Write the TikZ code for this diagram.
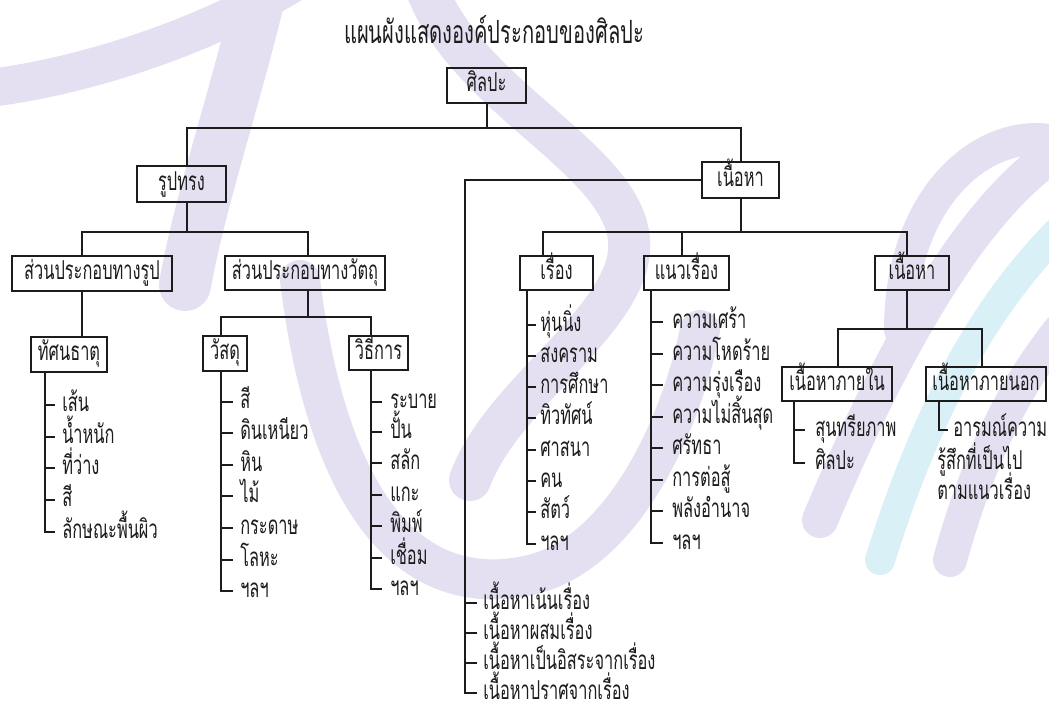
\documentclass[tikz,border=0pt]{standalone}
\usepackage{fontspec}
\newfontfamily\thaifont[Script=Thai,FakeStretch=0.63]{Loma}
\usetikzlibrary{calc}
\newdimen\pxu \pxu=0.75pt
\definecolor{wmL}{RGB}{229,224,241}
\definecolor{wmB}{RGB}{218,240,247}
\definecolor{ink}{RGB}{28,28,28}
\begin{document}
\begin{tikzpicture}[x=0.75pt,y=-0.75pt,
  wml/.style={draw=wmL, line cap=round, line width=#1\pxu},
  wmb/.style={draw=wmB, line cap=round, line width=#1\pxu},
  box/.style={draw=ink, line width=1.1pt, inner sep=0pt, text=ink,
    font=\thaifont\fontsize{19.5}{22}\selectfont, text height=13.5pt, text depth=4.5pt},
  item/.style={inner sep=0pt, anchor=west, text=ink,
    font=\thaifont\fontsize{19.5}{22}\selectfont, text height=13.5pt, text depth=4.5pt},
  conn/.style={draw=ink, line width=1.5pt}]
\fill[white] (0,0) rectangle (1049,711);
\useasboundingbox (0,0) rectangle (1049,711);
% watermark
\draw[wml=38] (-10,88) .. controls (100,74) and (215,30) .. (290,-15);
\draw[wml=52] (262,-15) .. controls (235,100) and (200,200) .. (185,285);
\draw[wml=42] (425,-15) .. controls (470,110) and (660,170) .. (625,270) .. controls (600,340) and (500,400) .. (470,480);
\draw[wml=40] (300,280) .. controls (330,520) and (420,600) .. (530,575) .. controls (620,555) and (680,430) .. (700,330);
\draw[wml=36] (1060,150) .. controls (980,200) and (900,330) .. (820,520);
\draw[wmb=30] (1060,230) .. controls (990,300) and (930,400) .. (880,560);
\draw[wml=34] (1060,330) .. controls (1020,380) and (980,450) .. (950,560);
\draw[wml=32] (900,330) .. controls (900,200) and (980,130) .. (1049,140);
% title
\node[text=ink, font=\thaifont\fontsize{24}{28}\selectfont] (title) at (494,30) {แผนผังแสดงองค์ประกอบของศิลปะ};
% boxes
\node[box, minimum width=79\pxu, minimum height=35\pxu] (root) at (486.5,85.5) {ศิลปะ};
\node[box, minimum width=89\pxu, minimum height=36\pxu] (rt) at (181.5,184) {รูปทรง};
\node[box, minimum width=77\pxu, minimum height=36\pxu] (c1) at (740.5,180) {เนื้อหา};
\node[box, minimum width=160\pxu, minimum height=35\pxu] (r1) at (92,273.5) {ส่วนประกอบทางรูป};
\node[box, minimum width=160\pxu, minimum height=34\pxu] (r2) at (305,273) {ส่วนประกอบทางวัตถุ};
\node[box, minimum width=76\pxu, minimum height=35\pxu] (t1) at (69,354.5) {ทัศนธาตุ};
\node[box, minimum width=44\pxu, minimum height=35\pxu] (m1) at (225,353.5) {วัสดุ};
\node[box, minimum width=59\pxu, minimum height=34\pxu] (m2) at (378.5,353) {วิธีการ};
\node[box, minimum width=73\pxu, minimum height=34\pxu] (s1) at (556.5,273) {เรื่อง};
\node[box, minimum width=85\pxu, minimum height=34\pxu] (s2) at (686.5,273) {แนวเรื่อง};
\node[box, minimum width=74\pxu, minimum height=34\pxu] (c2) at (912,273) {เนื้อหา};
\node[box, minimum width=110\pxu, minimum height=34\pxu] (n1) at (837,384) {เนื้อหาภายใน};
\node[box, minimum width=120\pxu, minimum height=34\pxu] (n2) at (986,384) {เนื้อหาภายนอก};
% tree connectors
\draw[conn] (root.south) -- ++(0,24) -| ($(rt.north)+(5.5,0)$);
\draw[conn] (root.south) -- ++(0,24) -| (c1.north);
\draw[conn] ($(rt.south)+(5.5,0)$) -- ++(0,29.5) -| ($(r1.north)+(-10,0)$);
\draw[conn] ($(rt.south)+(5.5,0)$) -- ++(0,29.5) -| ($(r2.north)+(3,0)$);
\draw[conn] ($(r1.south)+(-10,0)$) -- ($(t1.north)+(13,0)$);
\draw[conn] ($(r2.south)+(3,0)$) -- ++(0,26) -| ($(m1.north)+(-4,0)$);
\draw[conn] ($(r2.south)+(3,0)$) -- ++(0,26) -| ($(m2.north)+(-7.5,0)$);
\draw[conn] (c1.south) -- ++(0,33) -| ($(s1.north)+(-13.5,0)$);
\draw[conn] (c1.south) -- ++(0,33) -| ($(s2.north)+(-4.5,0)$);
\draw[conn] (c1.south) -- ++(0,33) -| ($(c2.north)+(-5,0)$);
\draw[conn] ($(c2.south)+(-5,0)$) -- ++(0,38) -| ($(n1.north)+(1,0)$);
\draw[conn] ($(c2.south)+(-5,0)$) -- ++(0,38) -| ($(n2.north)+(-4,0)$);
% lists: ทัศนธาตุ
\foreach \nm/\yy/\tx in {t1a/405/เส้น, t1b/437/น้ำหนัก, t1c/468/ที่ว่าง, t1d/500/สี, t1e/532/ลักษณะพื้นผิว}
  \node[item] (\nm) at (62,\yy) {\tx};
\draw[conn] ($(t1.south)+(-24,0)$) |- ($(t1e.west)+(-7,0)$);
\foreach \nm in {t1a,t1b,t1c,t1d} \draw[conn] ($(\nm.west)+(-17,0)$) -- ($(\nm.west)+(-7,0)$);
% วัสดุ
\foreach \nm/\yy/\tx in {m1a/402/สี, m1b/433/ดินเหนียว, m1c/465/หิน, m1d/496/ไม้, m1e/528/กระดาษ, m1f/560/โลหะ, m1g/591/ฯลฯ}
  \node[item] (\nm) at (240,\yy) {\tx};
\draw[conn] ($(m1.south)+(-4,0)$) |- ($(m1g.west)+(-7,0)$);
\foreach \nm in {m1a,m1b,m1c,m1d,m1e,m1f} \draw[conn] ($(\nm.west)+(-19,0)$) -- ($(\nm.west)+(-7,0)$);
% วิธีการ
\foreach \nm/\yy/\tx in {m2a/402/ระบาย, m2b/432/ปั้น, m2c/463/สลัก, m2d/495/แกะ, m2e/526/พิมพ์, m2f/558/เชื่อม, m2g/589/ฯลฯ}
  \node[item] (\nm) at (390,\yy) {\tx};
\draw[conn] ($(m2.south)+(-7.5,0)$) |- ($(m2g.west)+(-8,0)$);
\foreach \nm in {m2a,m2b,m2c,m2d,m2e,m2f} \draw[conn] ($(\nm.west)+(-19,0)$) -- ($(\nm.west)+(-8,0)$);
% เรื่อง
\foreach \nm/\yy/\tx in {s1a/325/หุ่นนิ่ง, s1b/356/สงคราม, s1c/387/การศึกษา, s1d/418/ทิวทัศน์, s1e/450/ศาสนา, s1f/481/คน, s1g/512/สัตว์, s1h/544/ฯลฯ}
  \node[item] (\nm) at (540,\yy) {\tx};
\draw[conn] ($(s1.south)+(-29.5,0)$) |- ($(s1h.west)+(-4,0)$);
\foreach \nm in {s1a,s1b,s1c,s1d,s1e,s1f,s1g} \draw[conn] ($(\nm.west)+(-13,0)$) -- ($(\nm.west)+(-4,0)$);
% แนวเรื่อง
\foreach \nm/\yy/\tx in {s2a/322/ความเศร้า, s2b/354/ความโหดร้าย, s2c/385/ความรุ่งเรือง, s2d/417/ความไม่สิ้นสุด, s2e/448/ศรัทธา, s2f/480/การต่อสู้, s2g/511/พลังอำนาจ, s2h/543/ฯลฯ}
  \node[item] (\nm) at (672,\yy) {\tx};
\draw[conn] ($(s2.south)+(-35.5,0)$) |- ($(s2h.west)+(-9,0)$);
\foreach \nm in {s2a,s2b,s2c,s2d,s2e,s2f,s2g} \draw[conn] ($(\nm.west)+(-21,0)$) -- ($(\nm.west)+(-9,0)$);
% เนื้อหาภายใน
\node[item] (n1a) at (815,430) {สุนทรียภาพ};
\node[item] (n1b) at (815,463) {ศิลปะ};
\draw[conn] ($(n1.south)+(-43,0)$) |- ($(n1b.west)+(-10,0)$);
\draw[conn] ($(n1a.west)+(-21,0)$) -- ($(n1a.west)+(-10,0)$);
% เนื้อหาภายนอก
\node[item] (n2a) at (953,430) {อารมณ์ความ};
\node[item] (n2b) at (937,463) {รู้สึกที่เป็นไป};
\node[item] (n2c) at (937,493) {ตามแนวเรื่อง};
\draw[conn] ($(n2.south)+(-47,0)$) |- ($(n2a.west)+(-5,0)$);
% เนื้อหา list (long branch)
\foreach \nm/\yy/\tx in {k1/603/เนื้อหาเน้นเรื่อง, k2/633/เนื้อหาผสมเรื่อง, k3/663/เนื้อหาเป็นอิสระจากเรื่อง, k4/693/เนื้อหาปราศจากเรื่อง}
  \node[item] (\nm) at (483,\yy) {\tx};
\draw[conn] (c1.west) -| ($(k4.west)+(-18,0)$) -- ($(k4.west)+(-6,0)$);
\foreach \nm in {k1,k2,k3} \draw[conn] ($(\nm.west)+(-18,0)$) -- ($(\nm.west)+(-6,0)$);
\end{tikzpicture}
\end{document}
